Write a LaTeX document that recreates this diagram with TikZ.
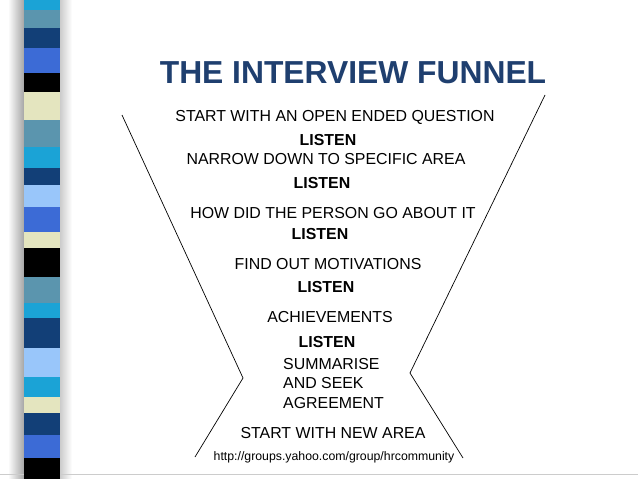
\documentclass[tikz,border=0pt]{standalone}
\usepackage{fontspec}
\setmainfont{Liberation Sans}
\begin{document}
\begin{tikzpicture}[x=1pt,y=-1pt,
  txt/.style={font=\fontsize{15.9}{18}\selectfont,inner sep=0pt,anchor=center},
  lis/.style={txt,font=\fontsize{15.9}{18}\selectfont\bfseries},
  fl/.style={draw=black,line width=0.7pt}]
\useasboundingbox (0,0) rectangle (638,479);
\fill[white] (0,0) rectangle (638,479);
% shadow
\shade[left color=white,right color=gray!70] (8,0) rectangle (24,479);
\shade[left color=gray!40,right color=white] (60,0) rectangle (72,479);
\draw[gray!40,line width=1pt] (0,474) -- (638,474);
% stripes
\foreach \a/\b/\c in {0/10/1BA3D6,10/28/5B95AE,28/48/123F77,48/73/3C6BD6,73/92/000000,92/120/E4E5BF,120/147/5B95AE,147/168/1BA3D6,168/185/123F77,185/207/99C6FA,207/232/3C6BD6,232/248/E4E5BF,248/277/000000,277/303/5B95AE,303/318/1BA3D6,318/348/123F77,348/377/99C6FA,377/397/1BA3D6,397/413/E4E5BF,413/435/123F77,435/458/3C6BD6,458/479/000000}{
  \definecolor{sc}{HTML}{\c}
  \fill[sc] (24,\a) rectangle (60,\b);
}
\definecolor{title}{HTML}{1F3F6F}
\node[font=\fontsize{31.8}{36}\selectfont\bfseries,text=title,inner sep=0pt] (t) at (353,73) {THE INTERVIEW FUNNEL};
% funnel
\coordinate (l1) at (122,115); \coordinate (l2) at (243,378); \coordinate (l3) at (195,457);
\coordinate (r1) at (545,95); \coordinate (r2) at (410,373); \coordinate (r3) at (463,458);
\draw[fl] (l1) -- (l2) -- (l3);
\draw[fl] (r1) -- (r2) -- (r3);
\node[txt] (a1) at (335,117) {START WITH AN OPEN ENDED QUESTION};
\node[lis] (b1) at (328,140) {LISTEN};
\node[txt] (a2) at (326,159) {NARROW DOWN TO SPECIFIC AREA};
\node[lis] (b2) at (322,183) {LISTEN};
\node[txt] (a3) at (333,213) {HOW DID THE PERSON GO ABOUT IT};
\node[lis] (b3) at (320,234) {LISTEN};
\node[txt] (a4) at (328,264) {FIND OUT MOTIVATIONS};
\node[lis] (b4) at (326,287) {LISTEN};
\node[txt] (a5) at (330,317) {ACHIEVEMENTS};
\node[lis] (b5) at (327,342) {LISTEN};
\node[txt,anchor=west] (s1) at (283,364) {SUMMARISE};
\node[txt,anchor=west] (s2) at (283,383) {AND SEEK};
\node[txt,anchor=west] (s3) at (283,403) {AGREEMENT};
\node[txt] (a6) at (333,433) {START WITH NEW AREA};
\node[txt,font=\fontsize{12.3}{14}\selectfont] (u) at (334,457) {http://groups.yahoo.com/group/hrcommunity};
\end{tikzpicture}
\end{document}
